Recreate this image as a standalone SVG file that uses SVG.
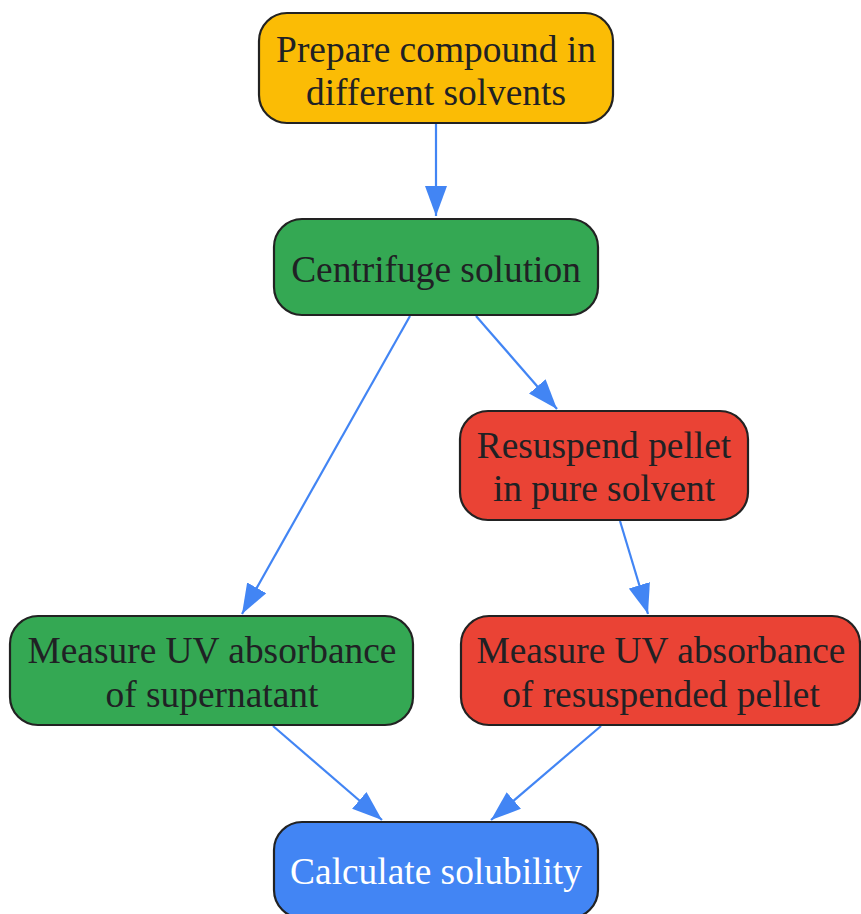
<svg xmlns="http://www.w3.org/2000/svg" width="861" height="914" viewBox="0 0 861 914">
<style>
.node rect{stroke:#222222;stroke-width:2.2}
.node text{font-family:"Liberation Serif","Times New Roman",serif;font-size:37.4px;fill:#202124;text-anchor:middle}
.node text.light{fill:#ffffff}
.edges line{stroke:#4285F4;stroke-width:2.2;fill:none}
</style>
<defs>
<marker id="arr" viewBox="0 0 30 22" refX="30" refY="11" markerWidth="30" markerHeight="22" markerUnits="userSpaceOnUse" orient="auto">
<path d="M0,0 L30,11 L0,22 Z" fill="#4285F4"/>
</marker>
</defs>
<rect width="861" height="914" fill="#ffffff"/>
<g class="edges">
<line x1="436" y1="124" x2="436" y2="216" marker-end="url(#arr)"/>
<line x1="410" y1="316" x2="242" y2="614" marker-end="url(#arr)"/>
<line x1="476" y1="316" x2="557" y2="409" marker-end="url(#arr)"/>
<line x1="620" y1="521" x2="648" y2="614" marker-end="url(#arr)"/>
<line x1="273" y1="726" x2="382" y2="820" marker-end="url(#arr)"/>
<line x1="601" y1="726" x2="491" y2="820" marker-end="url(#arr)"/>
</g>
<g id="prepare" class="node">
<rect x="259" y="13" width="354" height="110" rx="28" ry="28" fill="#FBBC05"/>
<text x="436" y="62">Prepare compound in</text>
<text x="436" y="105">different solvents</text>
</g>
<g id="centrifuge" class="node">
<rect x="274" y="219" width="324" height="96" rx="28" ry="28" fill="#34A853"/>
<text x="436" y="282">Centrifuge solution</text>
</g>
<g id="resuspend" class="node">
<rect x="460" y="411" width="288" height="109" rx="28" ry="28" fill="#EA4335"/>
<text x="604" y="458">Resuspend pellet</text>
<text x="604" y="501">in pure solvent</text>
</g>
<g id="uv_supernatant" class="node">
<rect x="10" y="616" width="403" height="109" rx="28" ry="28" fill="#34A853"/>
<text x="212" y="663">Measure UV absorbance</text>
<text x="212" y="707">of supernatant</text>
</g>
<g id="uv_pellet" class="node">
<rect x="461" y="616" width="399" height="109" rx="28" ry="28" fill="#EA4335"/>
<text x="661" y="663">Measure UV absorbance</text>
<text x="661" y="707">of resuspended pellet</text>
</g>
<g id="calculate" class="node">
<rect x="274" y="822" width="324" height="96" rx="28" ry="28" fill="#4285F4"/>
<text class="light" x="436" y="884">Calculate solubility</text>
</g>
</svg>
